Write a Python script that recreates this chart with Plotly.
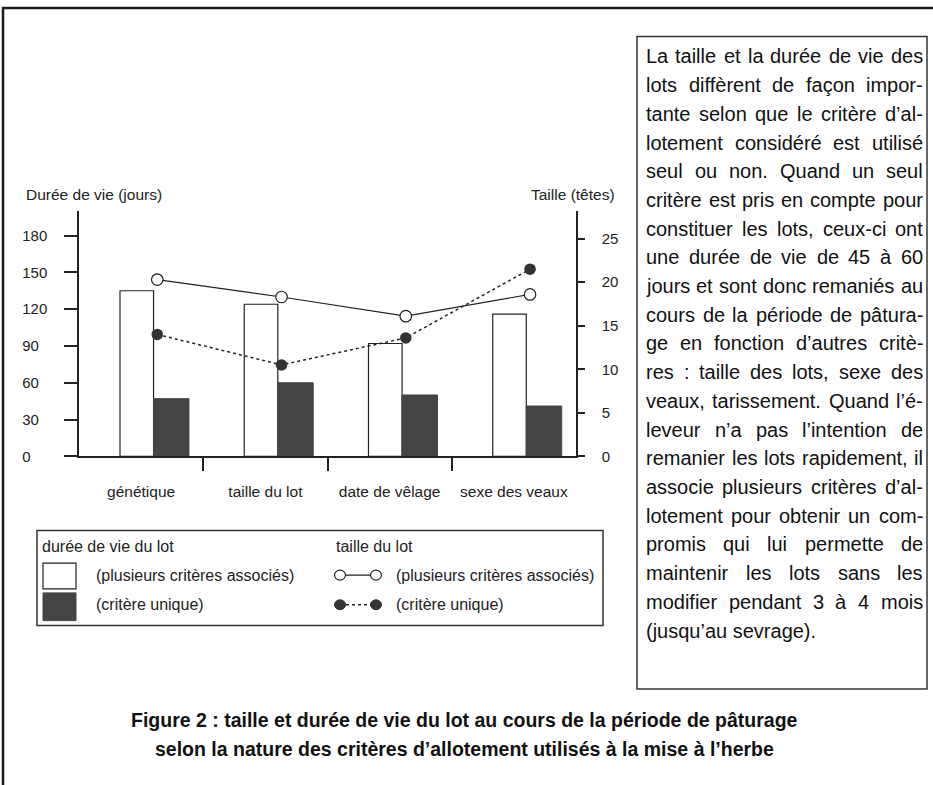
import plotly.graph_objects as go

W, H = 933, 785

# ---------------- data ----------------
categories = ["génétique", "taille du lot", "date de vêlage", "sexe des veaux"]
duree_plusieurs = [135, 124, 92, 116]        # durée de vie (jours), plusieurs critères associés
duree_unique = [47, 60, 50, 41]              # durée de vie (jours), critère unique
taille_plusieurs = [20.3, 18.3, 16.1, 18.6]  # taille (têtes), plusieurs critères associés
taille_unique = [14.0, 10.5, 13.6, 21.5]     # taille (têtes), critère unique
left_ticks = [0, 30, 60, 90, 120, 150, 180]
right_ticks = [0, 5, 10, 15, 20, 25]

text_lines = [
    "La taille et la durée de vie des",
    "lots diffèrent de façon impor-",
    "tante selon que le critère d’al-",
    "lotement considéré est utilisé",
    "seul ou non. Quand un seul",
    "critère est pris en compte pour",
    "constituer les lots, ceux-ci ont",
    "une durée de vie de 45 à 60",
    "jours et sont donc remaniés au",
    "cours de la période de pâtura-",
    "ge en fonction d’autres critè-",
    "res : taille des lots, sexe des",
    "veaux, tarissement. Quand l’é-",
    "leveur n’a pas l’intention de",
    "remanier les lots rapidement, il",
    "associe plusieurs critères d’al-",
    "lotement pour obtenir un com-",
    "promis qui lui permette de",
    "maintenir les lots sans les",
    "modifier pendant 3 à 4 mois",
    "(jusqu’au sevrage).",
]
caption_lines = [
    "Figure 2 : taille et durée de vie du lot au cours de la période de pâturage",
    "selon la nature des critères d’allotement utilisés à la mise à l’herbe",
]

# ---------------- helpers ----------------
def px(x):
    return x / W

def py(y):
    return 1 - y / H

SANS = "Liberation Sans, Arial, sans-serif"
CHART_FONT = dict(family=SANS, size=15.5, color="#222")
LEG_FONT = dict(family=SANS, size=16, color="#222")
TICK_FONT = dict(family=SANS, size=15, color="#222")
TEXT_SIZE = 20
TEXT_FONT = dict(family=SANS, size=TEXT_SIZE, color="#111")
CAP_FONT = dict(family=SANS, size=19.5, color="#111", weight="bold")

DARK = "#444444"
INK = "#222222"

# Arial / Liberation Sans advance widths (1/1000 em) for justification
_AW = {" ": 278, "(": 333, ")": 333, ",": 278, "-": 333, ".": 278, ":": 278, "’": 222,
       "L": 556, "Q": 778}
for ch in "0123456789":
    _AW[ch] = 556
for ch, w in zip("abcdefghijklmnopqrstuvwxyz",
                 [556, 556, 500, 556, 556, 278, 556, 556, 222, 222, 500, 222, 833,
                  556, 556, 556, 556, 333, 500, 278, 556, 500, 722, 500, 500, 500]):
    _AW[ch] = w
for ch, base in {"à": "a", "â": "a", "ç": "c", "é": "e", "è": "e", "ê": "e",
                 "ô": "o", "û": "u"}.items():
    _AW[ch] = _AW[base]
_AW["î"] = 278


def text_width(s, size):
    return sum(_AW.get(c, 556) for c in s) * size / 1000.0


idx = list(range(len(categories)))
LINE_SHIFT = 0.13

fig = go.Figure()

fig.add_trace(go.Bar(x=idx, y=duree_plusieurs, width=0.27, offset=-0.17,
                     marker=dict(color="white", line=dict(color=INK, width=1.2)),
                     name="durée (plusieurs critères associés)", showlegend=False,
                     xaxis="x", yaxis="y"))
fig.add_trace(go.Bar(x=idx, y=duree_unique, width=0.285, offset=0.10,
                     marker=dict(color=DARK, line=dict(color=DARK, width=1)),
                     name="durée (critère unique)", showlegend=False,
                     xaxis="x", yaxis="y"))
fig.add_trace(go.Scatter(x=[i + LINE_SHIFT for i in idx], y=taille_plusieurs,
                         mode="lines+markers",
                         line=dict(color=INK, width=1.2),
                         marker=dict(symbol="circle", size=11.5, color="white",
                                     line=dict(color=INK, width=1.2)),
                         name="taille (plusieurs critères associés)", showlegend=False,
                         xaxis="x", yaxis="y2"))
fig.add_trace(go.Scatter(x=[i + LINE_SHIFT for i in idx], y=taille_unique,
                         mode="lines+markers",
                         line=dict(color=INK, width=1.5, dash="dot"),
                         marker=dict(symbol="circle", size=11.5, color="#333333"),
                         name="taille (critère unique)", showlegend=False,
                         xaxis="x", yaxis="y2"))

X0, X1 = 79, 576
Y0, Y1 = 461, 213
left_top = 200.2
right_top = 28.2

fig.update_layout(
    width=W, height=H,
    margin=dict(l=0, r=0, t=0, b=0),
    paper_bgcolor="white", plot_bgcolor="rgba(0,0,0,0)",
    barmode="overlay",
    font=CHART_FONT,
    xaxis=dict(domain=[px(X0), px(X1)], range=[-0.5, 3.5], anchor="y",
               tickmode="array", tickvals=idx, ticktext=categories, ticks="",
               ticklabelstandoff=20, tickfont=CHART_FONT,
               minor=dict(tickmode="array", tickvals=[0.5, 1.5, 2.5], ticks="outside",
                          ticklen=13, tickwidth=1.5, tickcolor=INK, showgrid=False),
               showline=True, linecolor=INK, linewidth=1.5, showgrid=False,
               zeroline=False, fixedrange=True),
    yaxis=dict(domain=[py(Y0), py(Y1)], range=[0, left_top], anchor="x", side="left",
               tickmode="array", tickvals=left_ticks,
               ticktext=[f"{v}" + "\u2007" * (3 - len(str(v))) for v in left_ticks],
               ticks="outside", ticklen=13, tickwidth=1.5, tickcolor=INK,
               ticklabelstandoff=14, tickfont=TICK_FONT,
               showline=True, linecolor=INK, linewidth=1.5, showgrid=False, zeroline=False),
    yaxis3=dict(domain=[py(Y0), py(Y1)], range=[0, left_top], overlaying="y", anchor="x", side="left",
                tickmode="array", tickvals=left_ticks, showticklabels=False,
                ticks="inside", ticklen=9, tickwidth=1.5, tickcolor=INK,
                showline=False, showgrid=False, zeroline=False),
    yaxis2=dict(domain=[py(Y0), py(Y1)], range=[0, right_top], overlaying="y", anchor="x", side="right",
                tickmode="array", tickvals=right_ticks,
                ticks="outside", ticklen=7, tickwidth=1.5, tickcolor=INK,
                ticklabelstandoff=14, tickfont=TICK_FONT,
                showline=True, linecolor=INK, linewidth=1.5, showgrid=False, zeroline=False),
    yaxis4=dict(domain=[py(Y0), py(Y1)], range=[0, right_top], overlaying="y", anchor="x", side="right",
                tickmode="array", tickvals=right_ticks, showticklabels=False,
                ticks="inside", ticklen=13, tickwidth=1.5, tickcolor=INK,
                showline=False, showgrid=False, zeroline=False),
)

shapes = []
annotations = []

# outer frame
shapes.append(dict(type="rect", xref="paper", yref="paper",
                   x0=px(3), x1=px(W + 10), y0=py(8), y1=py(H + 10),
                   line=dict(color="#1a1a1a", width=2.5)))
# text box frame
shapes.append(dict(type="rect", xref="paper", yref="paper",
                   x0=px(637), x1=px(927), y0=py(37), y1=py(696),
                   line=dict(color="#333", width=1.5)))
# legend frame
LG_TOP, LG_BOT = 536, 632
shapes.append(dict(type="rect", xref="paper", yref="paper",
                   x0=px(37), x1=px(603), y0=py(LG_TOP), y1=py(LG_BOT),
                   line=dict(color="#333", width=1.5)))
ROW1, ROW2 = 581, 611
# legend swatches
shapes.append(dict(type="rect", xref="paper", yref="paper",
                   x0=px(43), x1=px(76), y0=py(569), y1=py(595),
                   fillcolor="white", line=dict(color=INK, width=1.2)))
shapes.append(dict(type="rect", xref="paper", yref="paper",
                   x0=px(43), x1=px(76), y0=py(599), y1=py(627),
                   fillcolor=DARK, line=dict(color=DARK, width=1)))
# legend line symbols
shapes.append(dict(type="line", xref="paper", yref="paper",
                   x0=px(340), x1=px(376), y0=py(ROW1), y1=py(ROW1),
                   line=dict(color=INK, width=1.2)))
shapes.append(dict(type="line", xref="paper", yref="paper",
                   x0=px(340), x1=px(376), y0=py(ROW2), y1=py(ROW2),
                   line=dict(color=INK, width=1.5, dash="dot")))
for cx in (340, 376):
    shapes.append(dict(type="circle", xref="paper", yref="paper",
                       x0=px(cx - 5.5), x1=px(cx + 5.5), y0=py(ROW1 - 5), y1=py(ROW1 + 5),
                       fillcolor="white", line=dict(color=INK, width=1.2)))
    shapes.append(dict(type="circle", xref="paper", yref="paper",
                       x0=px(cx - 5.5), x1=px(cx + 5.5), y0=py(ROW2 - 5), y1=py(ROW2 + 5),
                       fillcolor="#333", line=dict(color="#333", width=1)))


def label(x, y, text, font=CHART_FONT, xanchor="left"):
    annotations.append(dict(xref="paper", yref="paper", x=px(x), y=py(y), text=text,
                            showarrow=False, xanchor=xanchor, yanchor="middle", font=font,
                            borderpad=0))


# axis titles
label(25, 197, "Durée de vie (jours)")
label(530, 197, "Taille (têtes)")

# legend texts
label(41, 552, "durée de vie du lot", font=LEG_FONT)
label(95, ROW1, "(plusieurs critères associés)", font=LEG_FONT)
label(95, ROW2, "(critère unique)", font=LEG_FONT)
label(335, 552, "taille du lot", font=LEG_FONT)
label(395, ROW1, "(plusieurs critères associés)", font=LEG_FONT)
label(395, ROW2, "(critère unique)", font=LEG_FONT)

# text box, justified
TB_LEFT, TB_RIGHT = 645, 922
for i, line in enumerate(text_lines):
    yline = 57 + 29 * i
    words = line.split(" ")
    if i == len(text_lines) - 1 or len(words) == 1:
        label(TB_LEFT, yline, line, font=TEXT_FONT)
        continue
    total = sum(text_width(w, TEXT_SIZE) for w in words)
    gap = (TB_RIGHT - TB_LEFT - total) / (len(words) - 1)
    xw = TB_LEFT
    for w in words:
        label(xw, yline, w, font=TEXT_FONT)
        xw += text_width(w, TEXT_SIZE) + gap

# caption
for i, line in enumerate(caption_lines):
    label(464, 727 + 30 * i, line, font=CAP_FONT, xanchor="center")

fig.update_layout(shapes=shapes, annotations=annotations)

fig.write_html("out.html", config={"displayModeBar": False},
               post_script="document.body.style.margin='0';")
